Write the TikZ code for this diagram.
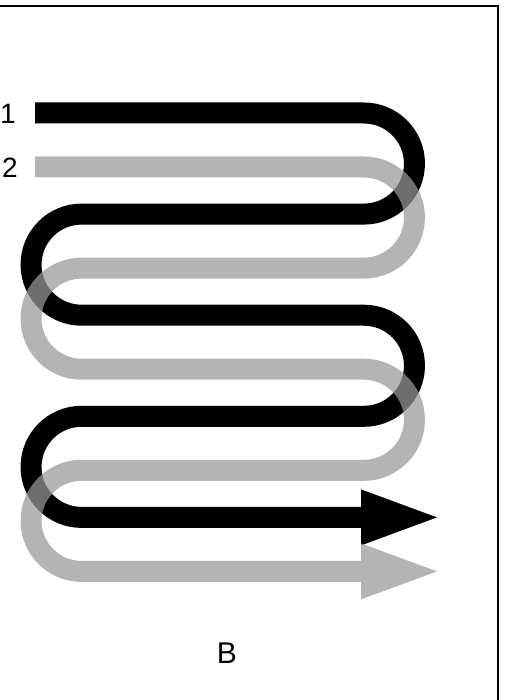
\documentclass[tikz,border=0pt]{standalone}
\usepackage{fontspec}
\setmainfont{Liberation Sans}
\definecolor{pathgray}{RGB}{152,152,152}
\begin{document}
\begin{tikzpicture}[x=1pt,y=1pt,
  band/.style={line width=21pt,line cap=butt,line join=round},
  blackband/.style={band,draw=black},
  grayband/.style={band,draw=pathgray,draw opacity=0.725},
  blackhead/.style={fill=black},
  grayhead/.style={fill=pathgray,fill opacity=0.725},
  lbl/.style={inner sep=0pt,font=\fontsize{28}{30}\selectfont},
  frameline/.style={line width=2.5pt,draw=black}]
\useasboundingbox (0,0) rectangle (506,-700);
\def\r{50.55}
% frame
\draw[frameline] (-5,-6) -- (498,-6) -- (498,-705);
% black path
\draw[blackband] (35,-113) -- (363.9,-113)
  arc[start angle=90,end angle=-90,radius=\r] -- (81.6,-214.1)
  arc[start angle=90,end angle=270,radius=\r] -- (363.9,-315.2)
  arc[start angle=90,end angle=-90,radius=\r] -- (81.6,-416.3)
  arc[start angle=90,end angle=270,radius=\r] -- (361,-517.4);
\fill[blackhead] (361,-489.4) -- (437,-517.4) -- (361,-545.4) -- cycle;
% gray path
\draw[grayband] (35,-167) -- (363.9,-167)
  arc[start angle=90,end angle=-90,radius=\r] -- (81.6,-268.1)
  arc[start angle=90,end angle=270,radius=\r] -- (363.9,-369.2)
  arc[start angle=90,end angle=-90,radius=\r] -- (81.6,-470.3)
  arc[start angle=90,end angle=270,radius=\r] -- (361,-571.4);
\fill[grayhead] (361,-543.4) -- (437,-571.4) -- (361,-599.4) -- cycle;
% labels
\node[lbl] (one) at (8,-114) {1};
\node[lbl] (two) at (10,-168) {2};
\node[lbl,font=\fontsize{30}{32}\selectfont] (bee) at (227,-653) {B};
\end{tikzpicture}
\end{document}
